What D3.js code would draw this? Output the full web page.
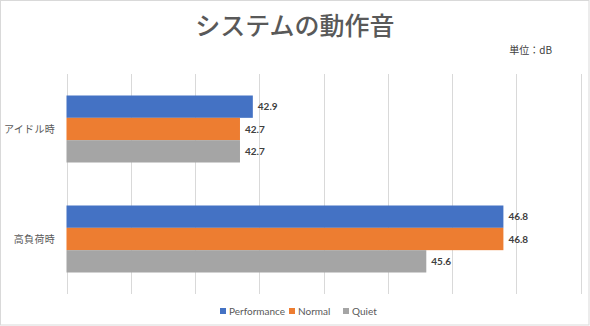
<!DOCTYPE html>
<html><head><meta charset="utf-8">
<script src="https://cdn.jsdelivr.net/npm/d3@7"></script>
<style>
html,body{margin:0;padding:0;background:#fff;}
text{font-family:"Noto Sans CJK JP","Noto Sans",sans-serif;}
.lat{font-family:Lato,"Noto Sans",sans-serif;}
</style></head>
<body>
<svg id="c" width="590" height="326"></svg>
<script>
const categories = ["アイドル時", "高負荷時"];
const seriesNames = ["Performance", "Normal", "Quiet"];
const performanceValues = [42.9, 46.8];
const normalValues = [42.7, 46.8];
const quietValues = [42.7, 45.6];
const xTicks = [40, 41, 42, 43, 44, 45, 46, 47, 48];
const colors = ["#4472C4", "#ED7D31", "#A5A5A5"];
const seriesValues = [performanceValues, normalValues, quietValues];

const svg = d3.select("#c");
const W = 590, H = 326;
svg.append("rect").attr("x",0.5).attr("y",0.5).attr("width",W-1.5).attr("height",H-1.5)
  .attr("fill","#fff").attr("stroke","#d9d9d9");

const x = d3.scaleLinear().domain([40,48]).range([66.5,580.5]);
const y = d3.scaleBand().domain(categories).range([74,294]).paddingInner(0).paddingOuter(0);

// gridlines
svg.append("g").selectAll("line").data(xTicks).join("line")
  .attr("x1",d=>Math.round(x(d))+0.5).attr("x2",d=>Math.round(x(d))+0.5)
  .attr("y1",74).attr("y2",294).attr("stroke","#d9d9d9").attr("stroke-width",1);

// title
svg.append("text").attr("x",295).attr("y",35).attr("text-anchor","middle")
  .attr("font-size",25).attr("font-weight",500).attr("fill","#595959").text("システムの動作音");
svg.append("text").attr("x",552).attr("y",54).attr("text-anchor","end")
  .attr("font-size",10).attr("fill","#404040").text("単位：dB");

// bars
const groupH = 67, barH = groupH/3;
categories.forEach((c,ci)=>{
  const top = y(c) + (y.bandwidth()-groupH)/2;
  seriesNames.forEach((s,si)=>{
    const v = seriesValues[si][ci];
    const by = top + si*barH;
    svg.append("rect").attr("x",x(40)).attr("y",by).attr("width",x(v)-x(40)).attr("height",barH)
      .attr("fill",colors[si]);
    svg.append("text").attr("class","lat").attr("x",x(v)+5).attr("y",by+barH/2).attr("dy","0.35em")
      .attr("font-size",10).attr("font-weight",700).attr("fill","#404040").text(v.toFixed(1));
  });
  svg.append("text").attr("x",55).attr("y",y(c)+y.bandwidth()/2).attr("dy","0.35em")
    .attr("text-anchor","end").attr("font-size",10).attr("letter-spacing",0.3).attr("fill","#595959").text(c);
});

// legend
const legX = [220, 289, 343];
seriesNames.forEach((s,i)=>{
  svg.append("rect").attr("x",legX[i]).attr("y",308).attr("width",6).attr("height",6).attr("fill",colors[i]);
  svg.append("text").attr("class","lat").attr("x",legX[i]+9).attr("y",311).attr("dy","0.35em")
    .attr("font-size",10).attr("fill","#595959").text(s);
});
</script>
</body></html>
